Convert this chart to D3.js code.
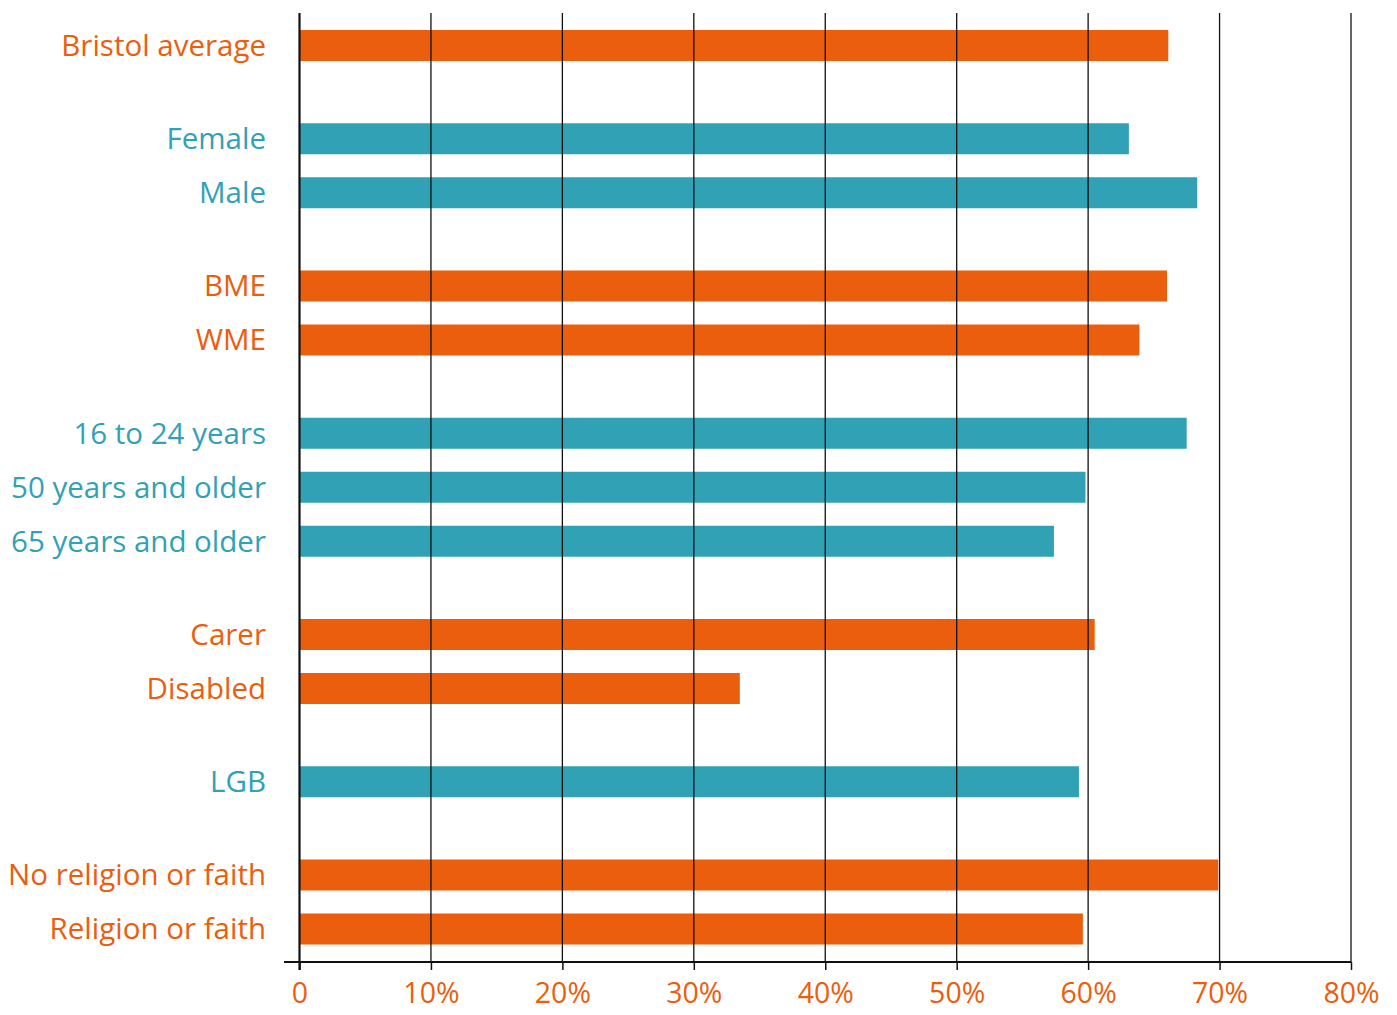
<!DOCTYPE html>
<html>
<head>
<meta charset="utf-8">
<script src="https://cdn.jsdelivr.net/npm/d3@7"></script>
<style>
  body { margin: 0; background: #fff; }
  text { font-family: "Open Sans", sans-serif; }
</style>
</head>
<body>
<div id="viz"></div>
<script>
// categories, top to bottom, with the group each belongs to
var categories = ["Bristol average", "Female", "Male", "BME", "WME",
  "16 to 24 years", "50 years and older", "65 years and older",
  "Carer", "Disabled", "LGB", "No religion or faith", "Religion or faith"];
var groups = [0, 1, 1, 2, 2, 3, 3, 3, 4, 4, 5, 6, 6];
var values = [66.1, 63.1, 68.3, 66.0, 63.9, 67.5, 59.8, 57.4, 60.5, 33.5, 59.3, 69.9, 59.6];
var ticks = [0, 10, 20, 30, 40, 50, 60, 70, 80];
var tickLabels = ["0", "10%", "20%", "30%", "40%", "50%", "60%", "70%", "80%"];

var orange = "#ea5e0d", teal = "#31a1b6";
var width = 1397, height = 1015;

var svg = d3.select("#viz").append("svg")
    .attr("width", width).attr("height", height);

var x = d3.scaleLinear().domain([0, 80]).range([299.5, 1351]);

// slot index: one per bar plus extra space between groups
var gap = 0.727;
var slots = categories.map(function(d, i){ return i + groups[i] * gap; });
var y = d3.scaleLinear().domain([0, d3.max(slots)]).range([45.5, 929]);
var barH = 31;

function colour(i){ return groups[i] % 2 == 0 ? orange : teal; }

// bars
svg.selectAll("rect.bar")
    .data(values)
    .enter().append("rect")
    .attr("class", "bar")
    .attr("x", x(0))
    .attr("y", function(d, i){ return y(slots[i]) - barH / 2; })
    .attr("width", function(d){ return x(d) - x(0); })
    .attr("height", barH)
    .attr("fill", function(d, i){ return colour(i); });

// gridlines over the bars
svg.selectAll("line.grid")
    .data(ticks.slice(1))
    .enter().append("line")
    .attr("class", "grid")
    .attr("x1", function(d){ return x(d); })
    .attr("x2", function(d){ return x(d); })
    .attr("y1", 13).attr("y2", 962)
    .attr("stroke", "#111").attr("stroke-width", 1.3);

// x axis
var xAxis = d3.axisBottom(x)
    .tickValues(ticks)
    .tickFormat(function(d, i){ return tickLabels[i]; })
    .tickSize(8)
    .tickPadding(13);

var gx = svg.append("g")
    .attr("transform", "translate(0,962)")
    .call(xAxis);
gx.select(".domain").remove();
gx.append("line")
    .attr("x1", 284).attr("x2", 1351)
    .attr("stroke", "#111").attr("stroke-width", 2);
gx.selectAll(".tick line").attr("stroke", "#111").attr("stroke-width", 1.5);
gx.selectAll(".tick text")
    .attr("fill", orange)
    .style("font-size", "28.5px")
    .style("font-family", "'Open Sans', sans-serif");

// zero line
svg.append("line")
    .attr("x1", x(0)).attr("x2", x(0))
    .attr("y1", 13).attr("y2", 970)
    .attr("stroke", "#111").attr("stroke-width", 2.2);

// category labels
svg.selectAll("text.cat")
    .data(categories)
    .enter().append("text")
    .attr("class", "cat")
    .attr("x", 266)
    .attr("y", function(d, i){ return y(slots[i]); })
    .attr("dy", "0.35em")
    .attr("text-anchor", "end")
    .attr("fill", function(d, i){ return colour(i); })
    .style("font-size", "29.5px")
    .text(function(d){ return d; });
</script>
</body>
</html>
